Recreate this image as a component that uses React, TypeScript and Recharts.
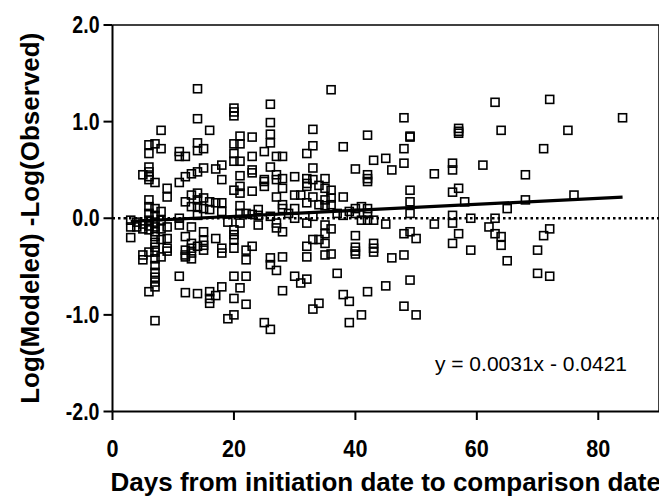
import React from 'react';
import { ScatterChart, Scatter, XAxis, YAxis, ReferenceLine, Customized } from 'recharts';

const xTicks = [0, 20, 40, 60, 80];
const yTicks = [-2, -1, 0, 1, 2];
const xDomain: [number, number] = [0, 90];
const yDomain: [number, number] = [-2, 2];
const trendSlope = 0.0031;
const trendIntercept = -0.0421;
const trendDays = [3, 84];
const equationText = 'y = 0.0031x - 0.0421';
const xTitle = 'Days from initiation date to comparison date';
const yTitle = 'Log(Modeled) -Log(Observed)';

const earlyPoints: [number, number][] = [
  [3, -0.02], [3, -0.09], [3, -0.2],
  [4, -0.04], [4, -0.09],
  [5, 0.45], [5, -0.06], [5, -0.11], [5, -0.38], [5, -0.43],
  [6, 0.76], [6, 0.67], [6, 0.53], [6, 0.48], [6, 0.43], [6, 0.4], [6, 0.19], [6, 0.12], [6, 0.05], [6, -0.02], [6, -0.08], [6, -0.12], [6, -0.35], [6, -0.76],
  [7, 0.77], [7, 0.37], [7, 0.1], [7, 0.03], [7, -0.04], [7, -0.09], [7, -0.14], [7, -0.19], [7, -0.25], [7, -0.3], [7, -0.35], [7, -0.42], [7, -0.49], [7, -0.56], [7, -0.61], [7, -0.66], [7, -0.71], [7, -1.06],
  [8, 0.91], [8, 0.72], [8, 0.07], [8, -0.02], [8, -0.11], [8, -0.22], [8, -0.4],
  [9, 0.31], [9, 0.22], [9, -0.09], [9, -0.21], [9, -0.31], [9, -0.34],
  [11, 0.69], [11, 0.64], [11, 0.37], [11, 0.0], [11, -0.07], [11, -0.6],
  [12, 0.64], [12, 0.43], [12, 0.17], [12, -0.19], [12, -0.33], [12, -0.38], [12, -0.4], [12, -0.77],
  [13, 0.46], [13, 0.24], [13, 0.12], [13, -0.09], [13, -0.26], [13, -0.31], [13, -0.36], [13, -0.42],
  [14, 1.34], [14, 1.03], [14, 0.78], [14, 0.7], [14, 0.48], [14, 0.26], [14, 0.19], [14, 0.12], [14, 0.03], [14, -0.29], [14, -0.78],
  [15, 0.72], [15, 0.52], [15, 0.21], [15, 0.1], [15, -0.14], [15, -0.23], [15, -0.28], [15, -0.33],
  [16, 0.91], [16, 0.17], [16, 0.09], [16, -0.76], [16, -0.83], [16, -0.88],
  [17, 0.51], [17, 0.16], [17, -0.21], [17, -0.8],
  [18, 0.55], [18, 0.4], [18, 0.16], [18, 0.07], [18, -0.31], [18, -0.36], [18, -0.71],
  [19, -0.04], [19, -1.04],
];

const midPoints: [number, number][] = [
  [20, 1.14], [20, 1.1], [20, 1.06], [20, 0.77], [20, 0.67], [20, 0.59], [20, 0.29], [20, -0.12], [20, -0.17], [20, -0.22], [20, -0.31], [20, -0.6], [20, -0.83], [20, -1.0],
  [21, 0.85], [21, 0.77], [21, 0.59], [21, 0.44], [21, 0.33], [21, 0.26], [21, 0.13], [21, 0.05], [21, -0.05], [21, -0.72],
  [22, 0.05], [22, -0.33], [22, -0.43], [22, -0.6], [22, -0.89],
  [23, 0.84], [23, 0.64], [23, 0.5], [23, 0.47], [23, 0.28], [23, 0.04], [23, -0.29],
  [24, 0.09], [24, 0.03], [24, -0.07],
  [25, 0.69], [25, 0.4], [25, 0.38], [25, 0.33], [25, -1.08],
  [26, 1.18], [26, 0.99], [26, 0.87], [26, 0.78], [26, 0.53], [26, 0.02], [26, -0.41], [26, -0.48], [26, -1.15],
  [27, 0.64], [27, 0.45], [27, 0.4], [27, 0.22], [27, -0.05], [27, -0.1], [27, -0.54],
  [28, 0.64], [28, 0.41], [28, 0.31], [28, 0.14], [28, 0.1], [28, -0.14], [28, -0.4], [28, -0.75],
  [29, 0.05],
  [30, 0.43], [30, 0.24], [30, 0.1], [30, 0.0], [30, -0.6],
  [31, 0.24], [31, -0.67],
  [32, 0.67], [32, 0.41], [32, 0.36], [32, 0.33], [32, 0.16], [32, -0.05], [32, -0.29], [32, -0.4], [32, -0.63],
  [33, 0.92], [33, 0.75], [33, 0.52], [33, 0.4], [33, 0.22], [33, 0.02], [33, -0.22], [33, -0.94],
  [34, 0.34], [34, 0.14], [34, -0.22], [34, -0.88],
  [35, 0.41], [35, 0.31], [35, 0.19], [35, 0.13], [35, -0.07], [35, -0.16], [35, -0.26], [35, -0.38],
  [36, 1.33], [36, 0.29], [36, 0.21], [36, 0.14], [36, -0.11], [36, -0.37],
  [37, 0.05], [37, -0.57],
  [38, 0.74], [38, 0.22], [38, 0.03], [38, -0.79],
  [39, 0.07], [39, -0.86], [39, -1.08],
];

const latePoints: [number, number][] = [
  [40, 0.51], [40, 0.1], [40, 0.05], [40, -0.18], [40, -0.3], [40, -0.34], [40, -0.37],
  [41, 0.12], [41, -0.02], [41, -1.0],
  [42, 0.86], [42, 0.45], [42, 0.41], [42, 0.38], [42, 0.1], [42, 0.05], [42, -0.02], [42, -0.76],
  [43, 0.6], [43, -0.02], [43, -0.26], [43, -0.31], [43, -0.35],
  [45, 0.62], [45, -0.06], [45, -0.7],
  [46, 0.5], [46, -0.41],
  [48, 1.04], [48, 0.72], [48, 0.57], [48, -0.16], [48, -0.38], [48, -0.91],
  [49, 0.85], [49, 0.84], [49, 0.29], [49, 0.17], [49, 0.05], [49, -0.14], [49, -0.64],
  [50, -0.21], [50, -1.0],
  [53, 0.46], [53, -0.06],
  [56, 0.57], [56, 0.5], [56, 0.27], [56, 0.03], [56, -0.05], [56, -0.26],
  [57, 0.93], [57, 0.9], [57, 0.88], [57, 0.31], [57, -0.16],
  [58, 0.17],
  [59, 0.0], [59, -0.33],
  [61, 0.55],
  [62, -0.09],
  [63, 1.2], [63, 0.0], [63, -0.16],
  [64, 0.91], [64, -0.19], [64, -0.28],
  [65, 0.1], [65, -0.44],
  [68, 0.45], [68, 0.19],
  [70, -0.33], [70, -0.57],
  [71, 0.72], [71, -0.18],
  [72, 1.23], [72, -0.11], [72, -0.6],
  [75, 0.91],
  [76, 0.24],
  [84, 1.04],
];

const scatterData = [...earlyPoints, ...midPoints, ...latePoints].map(([x, y]) => ({ x, y }));
const trendSegment = trendDays.map((d) => ({ x: d, y: trendSlope * d + trendIntercept }));

const SANS = '"Liberation Sans", Arial, sans-serif';

const SquareShape = (props: any) => {
  const { cx, cy } = props;
  if (cx == null || cy == null) return null;
  const s = 8;
  return <rect x={cx - s / 2} y={cy - s / 2} width={s} height={s} fill="none" stroke="#000" strokeWidth={1.6} />;
};

const XTick = (props: any) => {
  const { x, y, payload } = props;
  return (
    <g transform={`translate(${x}, ${y + 35}) scale(0.9, 1)`}>
      <text x={0} y={0} textAnchor="middle" fontFamily={SANS} fontWeight="bold" fontSize={24} fill="#000">
        {payload.value}
      </text>
    </g>
  );
};

const YTick = (props: any) => {
  const { x, y, payload } = props;
  return (
    <g transform={`translate(${x - 2}, ${y + 8}) scale(0.85, 1)`}>
      <text x={0} y={0} textAnchor="end" fontFamily={SANS} fontWeight="bold" fontSize={23} fill="#000">
        {Number(payload.value).toFixed(1)}
      </text>
    </g>
  );
};

const Titles = (props: any) => {
  const off = props.offset || {};
  const left = off.left ?? 104.5;
  const top = off.top ?? 17;
  const w = off.width ?? 546.5;
  const h = off.height ?? 386.5;
  return (
    <g>
      <text
        x={left + w / 2}
        y={top + h + 79}
        textAnchor="middle"
        fontFamily={SANS}
        fontWeight="bold"
        fontSize={26}
        fill="#000"
      >
        {xTitle}
      </text>
      <text
        transform={`translate(${31}, ${top + h / 2}) rotate(-90)`}
        textAnchor="middle"
        fontFamily={SANS}
        fontWeight="bold"
        fontSize={26}
        fill="#000"
      >
        {yTitle}
      </text>
      <text
        x={left + w - 32}
        y={top + h - 41}
        textAnchor="end"
        fontFamily={SANS}
        fontSize={21}
        fill="#000"
      >
        {equationText}
      </text>
    </g>
  );
};

export default function App() {
  return (
    <div style={{ width: 659, height: 491, background: '#fff' }}>
      <ScatterChart width={659} height={491} margin={{ top: 17, right: 8, bottom: 0, left: 0 }}>
        <XAxis
          type="number"
          dataKey="x"
          domain={xDomain}
          ticks={xTicks}
          height={87.5}
          tickSize={8.5}
          axisLine={{ stroke: '#000', strokeWidth: 2 }}
          tickLine={{ stroke: '#000', strokeWidth: 2 }}
          tick={<XTick />}
          allowDataOverflow
        />
        <YAxis
          type="number"
          dataKey="y"
          domain={yDomain}
          ticks={yTicks}
          width={104.5}
          tickSize={9}
          axisLine={{ stroke: '#000', strokeWidth: 2 }}
          tickLine={{ stroke: '#000', strokeWidth: 2 }}
          tick={<YTick />}
          allowDataOverflow
        />
        <ReferenceLine y={yDomain[1]} stroke="#000" strokeWidth={1.5} />
        <ReferenceLine x={xDomain[1]} stroke="#000" strokeWidth={1.5} />
        <ReferenceLine y={0} stroke="#000" strokeWidth={2.5} strokeDasharray="2.5 3" />
        <ReferenceLine segment={trendSegment} stroke="#000" strokeWidth={3.2} ifOverflow="visible" />
        <Scatter data={scatterData} shape={SquareShape} isAnimationActive={false} />
        <Customized component={Titles} />
      </ScatterChart>
    </div>
  );
}
